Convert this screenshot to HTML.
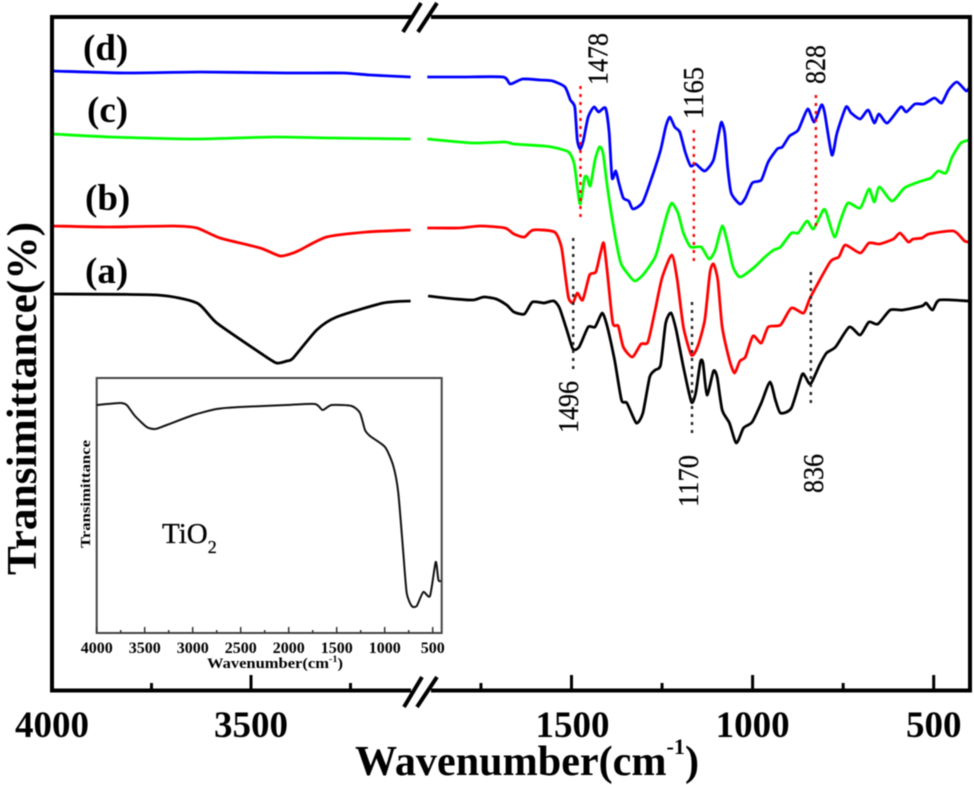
<!DOCTYPE html>
<html lang="en">
<head>
<meta charset="utf-8">
<title>FTIR spectra</title>
<style>
html,body{margin:0;padding:0;background:#fff;}
svg{display:block;filter:blur(0.5px);}
text{font-family:"Liberation Serif",serif;fill:#000;}
.b{font-weight:bold;}
</style>
</head>
<body>
<svg id="chart" xmlns="http://www.w3.org/2000/svg" width="974" height="785" viewBox="0 0 974 785">
  <g id="inset"></g>
  <g id="series"></g>
  <g id="guides"></g>
  <path d="M411 17H52V690.500H411M431 690.500H970V17H431" fill="none" stroke="#000" stroke-width="4"/>
  <g id="ticks"></g>
  <g stroke="#000" stroke-width="4" fill="none">
    <line x1="403" y1="32" x2="421" y2="3"/><line x1="418" y1="32" x2="437" y2="3"/>
  </g>
  <g stroke="#000" stroke-width="4" fill="none">
    <line x1="404" y1="707" x2="422" y2="677"/><line x1="417" y1="707" x2="437" y2="677"/>
  </g>
  <text class="b" x="83" y="60" font-size="37">(d)</text>
  <text class="b" x="87" y="122" font-size="37">(c)</text>
  <text class="b" x="85" y="210" font-size="37">(b)</text>
  <text class="b" x="85" y="283" font-size="37">(a)</text>
  <text class="b" transform="translate(36,575) rotate(-90)" font-size="42" textLength="353" lengthAdjust="spacingAndGlyphs">Transimittance(%)</text>
  <text class="b" x="355" y="775" font-size="42" textLength="344" lengthAdjust="spacingAndGlyphs">Wavenumber(cm<tspan font-size="22" dy="-21">-1</tspan><tspan dy="21">)</tspan></text>
  <text x="162" y="543" font-size="29" stroke="#000" stroke-width="0.3">TiO<tspan font-size="18" dy="10">2</tspan></text>
  <text class="b" x="207" y="668" font-size="14.500" textLength="136" lengthAdjust="spacingAndGlyphs">Wavenumber(cm<tspan font-size="9" dy="-6">-1</tspan><tspan dy="6">)</tspan></text>
  <text class="b" transform="translate(90,548) rotate(-90)" font-size="14" textLength="108" lengthAdjust="spacingAndGlyphs">Transimittance</text>
</svg>
<script>
// ---- main x axis ticks (wavenumber, cm-1)
const leftTicks = [3750, 3500, 3250];
const rightTicks = [1750, 1500, 1250, 1000, 750, 500];
const majorTicks = [3500, 1500, 1000, 500];
const tickLabels = [4000, 3500, 1500, 1000, 500];

// ---- curve (a), black
const aLeftWn = [3998,3737,3636,3586,3469,3436,3410,3394,3335,3285,3168,3099];
const aLeftT = [398,397,389,369,337,329,331,334,362,375,389,391];
const aRightWn = [1896,1820,1772,1742,1708,1679,1659,1630,1608,1576,1549,1533,1513,1496,1479,1454,1435,1415,1401,1381,1362,1347,1321,1303,1284,1269,1254,1240,1225,1211,1191,1169,1157,1144,1137,1126,1108,1098,1084,1064,1045,1025,1001,976,952,937,923,893,864,854,840,815,796,771,733,703,679,654,620,586,532,521,503,484,405];
const aRightT = [396,393,392,395,393,387,380,378,390,389,391,384,362,343,345,365,365,379,365,332,292,289,269,279,315,322,327,369,379,362,325,290,299,330,329,297,321,315,282,269,249,264,270,289,310,292,279,284,317,315,308,327,339,345,365,357,370,368,382,382,386,389,382,392,391];

// ---- curve (b), red
const bLeftWn = [3998,3864,3695,3636,3578,3477,3427,3394,3377,3310,3209,3099];
const bLeftT = [466,465,466,464,454,444,436,439,442,455,460,462];
const bRightWn = [1898,1811,1752,1684,1659,1630,1606,1547,1528,1518,1508,1496,1484,1469,1450,1433,1420,1411,1401,1386,1371,1357,1332,1308,1289,1269,1250,1223,1208,1191,1169,1152,1132,1118,1108,1096,1084,1064,1050,1035,1020,999,976,957,923,893,859,840,786,762,744,703,679,650,611,593,570,557,532,513,445,415,401];
const bRightT = [464,464,466,464,458,455,462,460,445,419,394,389,399,392,417,420,439,449,419,369,366,345,335,348,350,382,414,437,412,365,337,345,372,419,428,412,365,332,319,331,335,356,349,365,367,384,379,395,430,435,447,439,449,448,453,459,450,453,454,458,461,451,450];

// ---- curve (c), green
const cLeftWn = [3998,3854,3637,3444,3293,3099];
const cLeftT = [558,555,553,555,554,553];
const cRightWn = [1898,1772,1684,1659,1576,1542,1508,1493,1484,1476,1464,1457,1448,1435,1423,1413,1401,1381,1364,1342,1325,1303,1269,1250,1235,1223,1206,1191,1171,1142,1120,1103,1084,1069,1054,1035,1001,966,942,923,893,874,850,832,805,796,774,757,737,703,679,664,650,615,581,542,508,488,466,449,425,401];
const cRightT = [553,549,550,548,546,544,540,529,505,488,514,515,506,532,545,539,505,459,429,417,411,417,435,459,479,489,479,459,445,445,433,442,466,449,425,415,423,435,442,445,459,459,471,463,482,479,455,472,489,484,503,490,505,491,504,510,514,521,519,535,549,552];

// ---- curve (d), blue
const dLeftWn = [3998,3812,3628,3410,3268,3201,3099];
const dLeftT = [621,619,620,619,619,617,615];
const dRightWn = [1898,1801,1689,1669,1635,1586,1552,1518,1503,1491,1484,1476,1467,1454,1438,1425,1406,1396,1388,1378,1369,1357,1342,1330,1303,1274,1254,1240,1229,1215,1201,1186,1171,1157,1132,1108,1093,1086,1077,1069,1059,1035,1020,1001,976,957,932,918,898,874,848,830,810,801,781,767,742,728,703,681,664,651,628,591,576,552,527,498,478,459,436,410,401];
const dRightT = [615,615,615,608,613,612,611,605,592,585,552,543,552,575,585,580,584,559,514,521,509,494,491,483,490,519,542,565,575,565,560,540,526,528,521,532,559,570,559,525,499,488,494,509,512,530,543,545,556,562,583,570,587,579,537,559,585,579,573,582,569,578,569,585,580,588,588,594,589,602,610,601,605];

// ---- peak annotations
const peakLabels = ["1478","1165","828","1496","1170","836"];
const peakWn = [1478,1165,828,1498,1170,842];
const peakFrom = [606,562,597,454,390,420];
const peakTo = [472,429,462,319,257,287];
const peakColors = ["#ff0000","#ff0000","#ff0000","#222222","#222222","#222222"];
const peakLabelBottom = [85,119,84,433,507,493];
const peakLabelShift = [27,9,9,5,6,12];

// ---- inset TiO2 spectrum
const insetWn = [4000,3757,3688,3601,3479,3392,3271,2993,2750,2507,2021,1726,1646,1552,1344,1257,1205,1153,997,910,858,806,771,719,667,598,528,469,441,413];
const insetT = [228,230,228,217,206,204,208,218,224,226,228,229,223,228,227,220,203,197,186,167,140,80,40,27,27,41,37,71,53,52];
const insetMajor = [4000,3500,3000,2500,2000,1500,1000,500];
const insetMinor = [3750,3250,2750,2250,1750,1250,750];

// ---- axis functions
const xLeft = w => 52 + (4000 - w) * 0.398;
const xRight = w => 571.5 + (1500 - w) * 0.3622;
const xMain = w => w > 2000 ? xLeft(w) : xRight(w);
const yMain = t => 692 - t;
const xInset = w => 96.7 + (4000 - w) * 0.096;
const yInset = t => 633 - t;

const NS = "http://www.w3.org/2000/svg";
function make(tag, parent, attrs) {
  const el = document.createElementNS(NS, tag);
  for (const k in attrs) el.setAttribute(k, attrs[k]);
  parent.appendChild(el);
  return el;
}
function smoothPath(wn, t, fx, fy) {
  const p = wn.map((w, i) => [fx(w), fy(t[i])]);
  let d = "M" + p[0][0].toFixed(1) + " " + p[0][1].toFixed(1);
  for (let i = 0; i < p.length - 1; i++) {
    const a = p[Math.max(i - 1, 0)], b = p[i], c = p[i + 1], e = p[Math.min(i + 2, p.length - 1)];
    const k = 0.11;
    d += "C" + (b[0] + (c[0] - a[0]) * k).toFixed(1) + " " + (b[1] + (c[1] - a[1]) * k).toFixed(1) + " " +
         (c[0] - (e[0] - b[0]) * k).toFixed(1) + " " + (c[1] - (e[1] - b[1]) * k).toFixed(1) + " " +
         c[0].toFixed(1) + " " + c[1].toFixed(1);
  }
  return d;
}

const seriesG = document.getElementById("series");
const seriesDefs = [
  ["a", "#000000", aLeftWn, aLeftT, aRightWn, aRightT],
  ["b", "#ff0000", bLeftWn, bLeftT, bRightWn, bRightT],
  ["c", "#00ff00", cLeftWn, cLeftT, cRightWn, cRightT],
  ["d", "#0000ff", dLeftWn, dLeftT, dRightWn, dRightT]
];
seriesDefs.forEach(s => {
  const left = make("path", seriesG, {d: smoothPath(s[2], s[3], xLeft, yMain), fill: "none", stroke: s[1], "stroke-width": 2.8, "stroke-linejoin": "round"});
  
  
  const right = make("path", seriesG, {d: smoothPath(s[4], s[5], xRight, yMain), fill: "none", stroke: s[1], "stroke-width": 2.8, "stroke-linejoin": "round"});
  
  
});

const guidesG = document.getElementById("guides");
peakLabels.forEach((lab, i) => {
  const x = xRight(peakWn[i]) + 1;
  const ln = make("line", guidesG, {x1: x, x2: x, y1: yMain(peakFrom[i]), y2: yMain(peakTo[i]), stroke: peakColors[i], "stroke-width": 2.4, "stroke-dasharray": "3 5"});
  
  
  const tx = make("text", guidesG, {transform: "translate(" + (x + peakLabelShift[i]) + "," + peakLabelBottom[i] + ") rotate(-90)", "font-size": 28, textLength: lab.length * 13, lengthAdjust: "spacingAndGlyphs", stroke: "#000", "stroke-width": 0.25});
  tx.textContent = lab;
  
  
});

const ticksG = document.getElementById("ticks");
leftTicks.concat(rightTicks).forEach(w => {
  const x = xMain(w);
  const major = majorTicks.includes(w);
  const tk = make("line", ticksG, {x1: x, x2: x, y1: 690, y2: major ? 675 : 683, stroke: "#000", "stroke-width": 3});
  
  
});
tickLabels.forEach(w => {
  const lb = make("text", ticksG, {x: xMain(w) + (w === 1500 ? 1 : 0), y: 737, "text-anchor": "middle", "font-size": 37, "font-weight": "bold"});
  lb.textContent = w;
  
  
});

const insetG = document.getElementById("inset");
const insetFrame = make("rect", insetG, {x: 96.7, y: 378, width: 345, height: 255, fill: "none", stroke: "#444", "stroke-width": 2});


const insetCurve = make("path", insetG, {d: smoothPath(insetWn, insetT, xInset, yInset), fill: "none", stroke: "#111", "stroke-width": 2});


insetMajor.forEach(w => {
  const x = xInset(w);
  const tk = make("line", insetG, {x1: x, x2: x, y1: 633, y2: 627, stroke: "#333", "stroke-width": 1.5});
  
  
  const lb = make("text", insetG, {x: x, y: 653, "text-anchor": "middle", "font-size": 16, "font-weight": "bold"});
  lb.textContent = w;
  
  
});
insetMinor.forEach(w => {
  const x = xInset(w);
  const tk = make("line", insetG, {x1: x, x2: x, y1: 633, y2: 630, stroke: "#333", "stroke-width": 1.5});
  
  
});
</script>
</body>
</html>
